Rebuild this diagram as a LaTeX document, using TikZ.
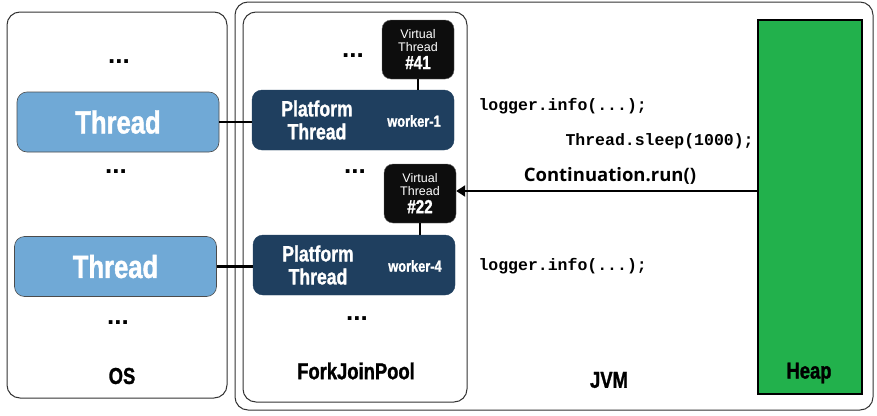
\documentclass[tikz,border=0pt]{standalone}
\usepackage{fontspec}
\setmainfont{Liberation Sans}
\setmonofont{Liberation Mono}
\newfontfamily\condfont[FakeStretch=0.8,BoldFeatures={FakeBold=1.2}]{Liberation Sans}
\newfontfamily\uifont{Open Sans}
\usepackage{tikz}
\usetikzlibrary{arrows.meta}
\usetikzlibrary{positioning}

\definecolor{threadblue}{HTML}{70A9D6}
\definecolor{platnavy}{HTML}{1F3F5F}
\definecolor{vtblack}{HTML}{0D0D0D}
\definecolor{heapgreen}{HTML}{22B14C}

\tikzset{
  panel/.style={draw=black!80,line width=1pt,rounded corners=13pt},
  osthread/.style={draw=black!70,line width=.6pt,fill=threadblue,rounded corners=10pt,
    minimum width=202pt,minimum height=60pt,text=white,
    font=\condfont\bfseries\fontsize{32}{32}\selectfont},
  platthread/.style={draw=platnavy,fill=platnavy,rounded corners=10pt,
    minimum width=202pt,minimum height=60pt},
  vthread/.style={draw=black!60,fill=vtblack,rounded corners=9pt,
    minimum width=72pt,minimum height=59pt,text=white,align=center,inner sep=0pt,
    font=\fontsize{12.5}{13}\selectfont},
  link/.style={line width=2.4pt,black},
  dots/.style={font=\bfseries\fontsize{26}{26}\selectfont},
  boxlabel/.style={font=\condfont\bfseries\fontsize{23}{23}\selectfont},
  code/.style={font=\ttfamily\bfseries\fontsize{16.5}{16.5}\selectfont,anchor=west}
}

\begin{document}
\begin{tikzpicture}[x=1pt,y=-1pt]
\useasboundingbox (0,0) rectangle (877,415);
% containers
\node[panel,minimum width=220pt,minimum height=386pt] (os) at (117,205) {};
\node[panel,minimum width=638pt,minimum height=408pt] (jvm) at (554,206) {};
\node[panel,minimum width=224pt,minimum height=390pt] (pool) at (355,207) {};
\node[draw=black,line width=2.2pt,fill=heapgreen,minimum width=104pt,minimum height=374pt] (heap) at (810,207) {};

% OS threads
\node[osthread] (thread1) at (118,122) {Thread};
\node[osthread] (thread2) at (115.5,266.5) {Thread};

% platform threads
\node[platthread] (worker1) at (353,120) {};
\node[platthread] (worker4) at (354,265) {};
\node[text=white,align=center,font=\condfont\bfseries\fontsize{22}{23}\selectfont] (plat1) at (317,120) {Platform\\Thread};
\node[text=white,font=\condfont\bfseries\fontsize{16}{16}\selectfont] (name1) at (414,121) {worker-1};
\node[text=white,align=center,font=\condfont\bfseries\fontsize{22}{23}\selectfont] (plat4) at (318,265) {Platform\\Thread};
\node[text=white,font=\condfont\bfseries\fontsize{16}{16}\selectfont] (name4) at (415,266) {worker-4};

% virtual threads
\node[vthread] (vt41) at (418,49.5) {Virtual\\Thread\\[3pt]\condfont\bfseries\fontsize{19}{19}\selectfont \#41};
\node[vthread] (vt22) at (420,193.5) {Virtual\\Thread\\[3pt]\condfont\bfseries\fontsize{19}{19}\selectfont \#22};

% connectors
\draw[link] (thread1.east) -- (thread1.east -| worker1.west);
\draw[link] (thread2.east) -- (thread2.east -| worker4.west);
\draw[link] (vt41.south) -- (vt41.south |- worker1.north);
\draw[link] (vt22.south) -- (vt22.south |- worker4.north);
\draw[line width=2.4pt,-{Triangle[length=9pt,width=11pt]}] (heap.west |- 0,191) -- (vt22.east |- 0,191);

% dots
\node[dots] (osdots1) at (119,62) {...};
\node[dots] (osdots2) at (116,172) {...};
\node[dots] (osdots3) at (118,323) {...};
\node[dots] (pooldots1) at (353,56) {...};
\node[dots] (pooldots2) at (355,172) {...};
\node[dots] (pooldots3) at (357,319) {...};

% code
\node[code] (log1) at (475,106) {logger.info(...);};
\node[code] (sleep) at (562,141) {Thread.sleep(1000);};
\node[code] (log2) at (475,266) {logger.info(...);};
\node[font=\uifont\bfseries\fontsize{18.5}{18.5}\selectfont] (cont) at (610,176) {Continuation.run()};

% labels
\node[boxlabel] (oslabel) at (122,376) {OS};
\node[boxlabel] (poollabel) at (356,371) {ForkJoinPool};
\node[boxlabel] (jvmlabel) at (609,380) {JVM};
\node[boxlabel] (heaplabel) at (809,373) {Heap};
\end{tikzpicture}
\end{document}
